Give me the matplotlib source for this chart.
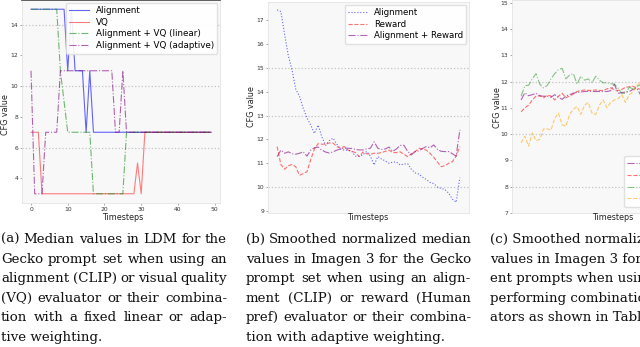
import matplotlib
matplotlib.use("Agg")
import matplotlib.pyplot as plt
import numpy as np

# ---- panel (a): median CFG values in LDM, t = 0..49
steps_a = list(range(50))
align_a = [15, 15, 15, 15, 15, 15, 15, 15, 15, 15,
           11, 15, 11, 11, 11, 7, 11, 7, 7, 7,
           7, 7, 7, 7, 7, 7, 7, 7, 7, 7,
           7, 7, 7, 7, 7, 7, 7, 7, 7, 7,
           7, 7, 7, 7, 7, 7, 7, 7, 7, 7]
vq_a = [7, 7, 7, 3, 3, 3, 3, 3, 3, 3,
        3, 3, 3, 3, 3, 3, 3, 3, 3, 3,
        3, 3, 3, 3, 3, 3, 3, 3, 3, 5,
        3, 7, 7, 7, 7, 7, 7, 7, 7, 7,
        7, 7, 7, 7, 7, 7, 7, 7, 7, 7]
linear_a = [15, 15, 15, 15, 15, 15, 15, 15, 11, 9,
            7, 7, 7, 7, 7, 7, 7, 3, 3, 3,
            3, 3, 3, 3, 3, 3, 7, 7, 7, 7,
            7, 7, 7, 7, 7, 7, 7, 7, 7, 7,
            7, 7, 7, 7, 7, 7, 7, 7, 7, 7]
adaptive_a = [11, 3, 3, 3, 7, 7, 7, 7, 11, 11,
              11, 11, 11, 11, 11, 11, 11, 11, 11, 11,
              11, 11, 11, 7, 7, 11, 7, 7, 7, 7,
              7, 7, 7, 7, 7, 7, 7, 7, 7, 7,
              7, 7, 7, 7, 7, 7, 7, 7, 7, 7]
labels_a = ["Alignment", "VQ", "Alignment + VQ (linear)", "Alignment + VQ (adaptive)"]
yticks_a = [4, 6, 8, 10, 12, 14]
xticks_a = [0, 10, 20, 30, 40, 50]
grid_a = [6, 10, 14]

# ---- panel (b): smoothed normalized medians, Imagen 3, Gecko
steps_b = list(range(50))
align_b = [17.42, 17.35, 16.4, 15.5, 14.9, 14.1, 13.8, 13.3, 12.9, 12.6,
           12.25, 12.6, 12.1, 11.75, 11.95, 12.05, 11.8, 11.6, 11.55, 11.55,
           11.5, 11.3, 11.3, 11.35, 11.5, 11.3, 10.93, 11.28, 11.18, 11.1,
           11.0, 11.05, 11.05, 10.93, 10.97, 10.98, 10.75, 10.6, 10.55, 10.42,
           10.32, 10.2, 10.15, 10.0, 9.95, 9.9, 9.75, 9.5, 9.37, 10.4]
reward_b = [11.7, 10.95, 10.75, 10.9, 10.95, 10.85, 10.5, 10.57, 10.65, 11.15,
            11.6, 11.82, 11.8, 11.8, 11.85, 11.85, 11.7, 11.63, 11.7, 11.55,
            11.5, 11.45, 11.28, 11.47, 11.4, 11.38, 11.42, 11.42, 11.45, 11.5,
            11.55, 11.45, 11.45, 11.48, 11.38, 11.28, 11.4, 11.48, 11.63, 11.6,
            11.55, 11.42, 11.25, 11.05, 10.86, 10.9, 11.0, 11.07, 11.3, 11.7]
combo_b = [11.28, 11.55, 11.42, 11.48, 11.4, 11.38, 11.42, 11.48, 11.3, 11.55,
           11.65, 11.68, 11.55, 11.47, 11.43, 11.48, 11.55, 11.6, 11.63, 11.63,
           11.62, 11.58, 11.56, 11.56, 11.6, 11.63, 11.9, 11.63, 11.58, 11.6,
           11.68, 11.5, 11.6, 11.75, 11.75, 11.5, 11.35, 11.5, 11.52, 11.62,
           11.7, 11.65, 11.77, 11.58, 11.5, 11.49, 11.49, 11.4, 11.3, 12.4]
labels_b = ["Alignment", "Reward", "Alignment + Reward"]
yticks_b = [9, 10, 11, 12, 13, 14, 15, 16, 17]
grid_b = [10, 13, 15]

# ---- panel (c): different prompts, best combinations (only the visible part)
steps_c = list(range(33))
purple_c = [11.3, 11.57, 11.46, 11.5, 11.55, 11.46, 11.44, 11.44, 11.4, 11.5,
            11.4, 11.32, 11.45, 11.5, 11.56, 11.58, 11.6, 11.62, 11.63, 11.62,
            11.62, 11.62, 11.62, 11.62, 11.65, 11.9, 11.55, 11.58, 11.6, 11.62,
            11.7, 11.75, 11.5]
red_c = [10.85, 11.0, 11.1, 11.3, 11.45, 11.45, 11.38, 11.48, 11.45, 11.3,
         11.44, 11.55, 11.38, 11.45, 11.52, 11.62, 11.65, 11.68, 11.66, 11.66,
         11.68, 11.66, 11.66, 11.72, 11.76, 11.68, 11.66, 11.7, 11.78, 11.8,
         11.82, 11.75, 11.7]
green_c = [11.44, 11.84, 11.86, 12.1, 12.3, 11.9, 11.76, 11.85, 12.1, 12.3,
           12.45, 12.5, 12.1, 12.25, 12.3, 11.9, 12.2, 12.05, 12.1, 11.95,
           12.2, 12.05, 11.95, 11.95, 11.92, 11.9, 11.75, 11.55, 11.55, 11.78,
           11.72, 11.8, 11.88]
orange_c = [9.67, 9.92, 9.54, 10.05, 9.75, 9.8, 10.2, 10.2, 10.15, 10.6,
            10.8, 10.35, 10.3, 10.75, 10.95, 11.05, 10.75, 11.1, 11.2, 10.8,
            10.74, 11.1, 11.3, 11.0, 11.2, 11.3, 11.35, 11.5, 11.2, 11.5,
            11.6, 11.85, 11.95]
labels_c = ["Alignment + Reward", "Reward + VQ", "Alignment + VQ", "All evaluators"]
yticks_c = [7, 8, 9, 10, 11, 12, 13, 14, 15]
grid_c = [8, 10, 12]

captions_a = ["(a) Median values in LDM for the",
              "Gecko prompt set when using an",
              "alignment (CLIP) or visual quality",
              "(VQ) evaluator or their combina-",
              "tion with a fixed linear or adap-",
              "tive weighting."]
captions_b = ["(b) Smoothed normalized median",
              "values in Imagen 3 for the Gecko",
              "prompt set when using an align-",
              "ment (CLIP) or reward (Human",
              "pref) evaluator or their combina-",
              "tion with adaptive weighting."]
captions_c = ["(c) Smoothed normalized median",
              "values in Imagen 3 for differ-",
              "ent prompts when using the best",
              "performing combinations of evalu-",
              "ators as shown in Table 2."]

W, H = 640, 347
fig = plt.figure(figsize=(W / 100, H / 100), dpi=100)


def box(l, t, r, b):
    return [l / W, 1 - b / H, (r - l) / W, (b - t) / H]


def style(ax, yticks, grid, ylim):
    ax.set_facecolor("#f8f8f8")
    for s in ax.spines.values():
        s.set_color("#e4e4e4")
        s.set_linewidth(0.6)
    ax.set_yticks(yticks)
    ax.set_ylim(*ylim)
    ax.tick_params(labelsize=4.3, length=1.5, width=0.4, pad=1.2,
                   color="#666666", labelcolor="#333333")
    for g in grid:
        ax.axhline(g, color="#c4c4c4", ls=":", lw=0.9, zorder=0.5)


# panel (a)
ax = fig.add_axes(box(22, 0, 220, 203))
ax.plot(steps_a, align_a, color="blue", alpha=0.6, lw=0.8, label=labels_a[0])
ax.plot(steps_a, vq_a, color="red", alpha=0.5, lw=0.8, label=labels_a[1])
ax.plot(steps_a, linear_a, color="green", alpha=0.55, lw=0.8, ls="-.", label=labels_a[2])
ax.plot(steps_a, adaptive_a, color="purple", alpha=0.6, lw=0.8, ls="-.", label=labels_a[3])
style(ax, yticks_a, grid_a, (2.4, 15.6))
ax.set_xticks(xticks_a)
ax.spines["top"].set_color("#444444")
ax.spines["top"].set_linewidth(1.2)
ax.legend(loc="upper right", fontsize=6.3, labelspacing=0.3, handlelength=2.2,
          borderpad=0.4, borderaxespad=0.3, framealpha=0.9, edgecolor="#dddddd")

# panel (b)
ax = fig.add_axes(box(268, 2, 469, 213))
ax.plot(steps_b, align_b, color="blue", alpha=0.6, lw=0.8, ls=":", label=labels_b[0])
ax.plot(steps_b, reward_b, color="red", alpha=0.55, lw=0.8, ls="--", label=labels_b[1])
ax.plot(steps_b, combo_b, color="purple", alpha=0.6, lw=0.8, ls="-.", label=labels_b[2])
style(ax, yticks_b, grid_b, (8.92, 17.75))
ax.set_xticks([])
ax.legend(loc="upper right", fontsize=6.2, labelspacing=0.3, handlelength=2.2,
          borderpad=0.4, borderaxespad=0.3, framealpha=0.9, edgecolor="#dddddd")

# panel (c)
ax = fig.add_axes(box(512, 0, 713, 213))
ax.plot(steps_c, purple_c, color="purple", alpha=0.6, lw=0.8, ls="-.", label=labels_c[0])
ax.plot(steps_c, red_c, color="red", alpha=0.55, lw=0.8, ls="--", label=labels_c[1])
ax.plot(steps_c, green_c, color="green", alpha=0.45, lw=0.8, ls="-.", label=labels_c[2])
ax.plot(steps_c, orange_c, color="orange", alpha=0.55, lw=0.8, ls="--", label=labels_c[3])
style(ax, yticks_c, grid_c, (7.0, 15.1))
ax.set_xlim(-2.45, 51.45)
ax.set_xticks([])
ax.legend(loc="upper left", bbox_to_anchor=(624 / W, 1 - 156 / H),
          bbox_transform=fig.transFigure, fontsize=6.2, labelspacing=0.3,
          handlelength=2.2, borderpad=0.4, borderaxespad=0, framealpha=0.9,
          edgecolor="#dddddd")

# axis labels
lab = dict(fontsize=5.8, color="#222222", ha="center", va="center")
fig.text(6 / W, 1 - 115 / H, "CFG value", rotation=90, **lab)
fig.text(251 / W, 1 - 107 / H, "CFG value", rotation=90, **lab)
fig.text(497 / W, 1 - 108 / H, "CFG value", rotation=90, **lab)
fig.text(123 / W, 1 - 218 / H, "Timesteps", **lab)
fig.text(368 / W, 1 - 218 / H, "Timesteps", **lab)
fig.text(613 / W, 1 - 218 / H, "Timesteps", **lab)

# captions, justified line by line
cap_kw = dict(fontsize=9.6, family="DejaVu Serif", color="#111111", va="baseline")
rend = fig.canvas.get_renderer()


def caption(lines, x0, x1, y0, dy, justify=True):
    for i, line in enumerate(lines):
        y = 1 - (y0 + i * dy) / H
        words = line.split()
        if i == len(lines) - 1 or not justify:
            fig.text(x0 / W, y, line, **cap_kw)
            continue
        widths = []
        for w in words:
            t = fig.text(0, 0, w, **cap_kw)
            widths.append(t.get_window_extent(rend).width)
            t.remove()
        gap = max((x1 - x0 - sum(widths)) / (len(words) - 1), 2.5)
        x = x0
        for w, wd in zip(words, widths):
            fig.text(x / W, y, w, **cap_kw)
            x += wd + gap


caption(captions_a, 1, 227, 243, 19.6)
caption(captions_b, 246, 471, 243, 19.6)
caption(captions_c, 490, 715, 243, 19.6, justify=False)

fig.savefig("out.png", dpi=100)
